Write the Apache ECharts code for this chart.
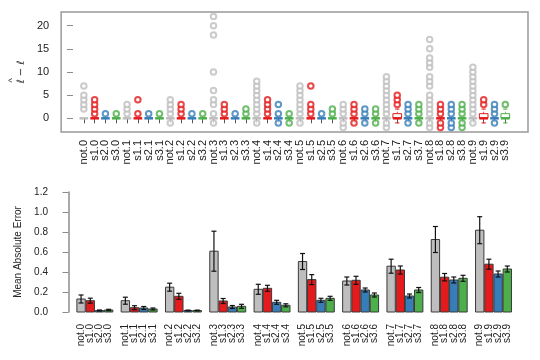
<!DOCTYPE html>
<html>
<head>
<meta charset="utf-8">
<script src="https://cdn.jsdelivr.net/npm/echarts@6/dist/echarts.min.js"></script>
<style>
  html, body { margin: 0; padding: 0; background: #fff; }
  #main { width: 540px; height: 360px; }
</style>
</head>
<body>
<div id="main"></div>
<script>
// category names, one per box / bar
const labels = [
  'not.0','s1.0','s2.0','s3.0','not.1','s1.1','s2.1','s3.1',
  'not.2','s1.2','s2.2','s3.2','not.3','s1.3','s2.3','s3.3',
  'not.4','s1.4','s2.4','s3.4','not.5','s1.5','s2.5','s3.5',
  'not.6','s1.6','s2.6','s3.6','not.7','s1.7','s2.7','s3.7',
  'not.8','s1.8','s2.8','s3.8','not.9','s1.9','s2.9','s3.9'
]
const groupColors = ['#bebebe', '#e41a1c', '#377eb8', '#4daf4a']

// top panel: box stats [min, q1, median, q3, max]
const boxStats = [
  [0,0,0,0,0],[0,0,0,0,0],[0,0,0,0,0],[0,0,0,0,0],
  [0,0,0,0,0],[0,0,0,0,0],[0,0,0,0,0],[0,0,0,0,0],
  [0,0,0,0,0],[0,0,0,0,0],[0,0,0,0,0],[0,0,0,0,0],
  [0,0,0,0,0],[0,0,0,0,0],[0,0,0,0,0],[0,0,0,0,0],
  [0,0,0,0,0],[0,0,0,0,0],[0,0,0,0,0],[0,0,0,0,0],
  [0,0,0,0,0],[0,0,0,0,0],[0,0,0,0,0],[0,0,0,0,0],
  [0,0,0,0,0],[0,0,0,0,0],[0,0,0,0,0],[0,0,0,0,0],
  [0,0,0,0,0],[-1,0,0,1,2],[0,0,0,0,0],[0,0,0,0,0],
  [0,0,0,0,0],[0,0,0,0,0],[0,0,0,0,0],[0,0,0,0,0],
  [0,0,0,0,0],[-1,0,0,1,2],[0,0,0,0,0],[-1,0,0,1,2]
]

// top panel: outliers per category
const outliers = [
  [2,3,4,5,7], [1,2,3,4], [1], [1],
  [1,2,3], [1,4], [1], [1],
  [-1,1,2,3,4], [1,2,3], [1], [1],
  [-1,1,3,4,6,10,18,20,22], [1,2,3], [1], [1,2],
  [-1,1,2,3,4,5,6,7,8], [1,2,3,4], [-1,1,3], [-1,1],
  [-1,1,2,3,4,5,6,7], [1,2,3,7], [1], [1,2],
  [-2,-1,1,2,3], [-1,1,2,3], [-1,1,2], [-1,1,2],
  [-2,-1,1,2,3,4,5,6,7,8,9], [3,4,5], [-1,1,2,3], [-1,1,2,3],
  [-2,-1,1,2,3,4,5,7,8,9,11,12,13,15,17], [-2,-1,1,2,3], [-2,-1,1,2,3], [-2,-1,1,2,3],
  [-1,1,2,3,4,5,6,7,8,9,10,11], [3,4], [-1,1,2,3], [3]
]

// bottom panel: mean absolute error and its error bar half-width
const maeMean = [
  0.13, 0.113, 0.015, 0.02,
  0.113, 0.043, 0.04, 0.03,
  0.248, 0.157, 0.015, 0.015,
  0.608, 0.11, 0.05, 0.057,
  0.227, 0.237, 0.097, 0.067,
  0.505, 0.324, 0.117, 0.137,
  0.31, 0.317, 0.22, 0.17,
  0.458, 0.42, 0.16, 0.22,
  0.725, 0.348, 0.32, 0.337,
  0.818, 0.478, 0.38, 0.43
]
const maeErr = [
  0.04, 0.025, 0.005, 0.007,
  0.035, 0.02, 0.015, 0.01,
  0.04, 0.03, 0.004, 0.004,
  0.2, 0.025, 0.015, 0.02,
  0.05, 0.03, 0.02, 0.015,
  0.08, 0.05, 0.02, 0.02,
  0.04, 0.04, 0.02, 0.02,
  0.07, 0.04, 0.02, 0.025,
  0.13, 0.037, 0.03, 0.03,
  0.135, 0.05, 0.03, 0.03
]
const topTicks = [0, 5, 10, 15, 20]

// layout positions
const boxX = labels.map((_, i) => i + 1)
const barX = labels.map((_, i) => Math.floor(i / 4) * 5.3 + 1.5 + (i % 4) * 1.1)
// bar labels split over two axes so ECharts does not drop the ones next to min/max
const barXEven = barX.filter((_, i) => i % 2 === 0)
const barXOdd = barX.filter((_, i) => i % 2 === 1)

const font = 'Liberation Sans, Arial, sans-serif'
const axisGrey = '#8c8c8c'
const textCol = '#222'

function renderBox(params, api) {
  const x = api.value(0)
  const lo = api.value(1), q1 = api.value(2), med = api.value(3), q3 = api.value(4), hi = api.value(5)
  const color = groupColors[params.dataIndex % 4]
  const half = api.size([0.8, 0])[0] / 2
  const children = []
  const pq1 = api.coord([x, q1]), pq3 = api.coord([x, q3])
  if (q3 > q1) {
    const plo = api.coord([x, lo]), phi = api.coord([x, hi])
    children.push({ type: 'line', shape: { x1: pq3[0], y1: pq3[1], x2: phi[0], y2: phi[1] },
      style: { stroke: color, lineWidth: 0.8, lineDash: [2, 2] } })
    children.push({ type: 'line', shape: { x1: pq1[0], y1: pq1[1], x2: plo[0], y2: plo[1] },
      style: { stroke: color, lineWidth: 0.8, lineDash: [2, 2] } })
    children.push({ type: 'line', shape: { x1: phi[0] - half / 2, y1: phi[1], x2: phi[0] + half / 2, y2: phi[1] },
      style: { stroke: color, lineWidth: 1 } })
    children.push({ type: 'line', shape: { x1: plo[0] - half / 2, y1: plo[1], x2: plo[0] + half / 2, y2: plo[1] },
      style: { stroke: color, lineWidth: 1 } })
    children.push({ type: 'rect', shape: { x: pq1[0] - half, y: pq3[1], width: half * 2, height: pq1[1] - pq3[1] },
      style: { fill: '#fff', stroke: color, lineWidth: 1 } })
  }
  const pm = api.coord([x, med])
  children.push({ type: 'line', shape: { x1: pm[0] - half, y1: pm[1], x2: pm[0] + half, y2: pm[1] },
    style: { stroke: color, lineWidth: 2.5 } })
  return { type: 'group', children: children }
}

function renderBar(params, api) {
  const x = api.value(0), m = api.value(1), e = api.value(2)
  const color = groupColors[params.dataIndex % 4]
  const w = api.size([1, 0])[0]
  const p0 = api.coord([x, 0]), pm = api.coord([x, m])
  const pt = api.coord([x, m + e]), pb = api.coord([x, Math.max(m - e, 0)])
  const cap = 2.5
  return {
    type: 'group',
    children: [
      { type: 'rect', shape: { x: p0[0] - w / 2, y: pm[1], width: w, height: p0[1] - pm[1] },
        style: { fill: color, stroke: '#3a3a3a', lineWidth: 1 } },
      { type: 'line', shape: { x1: pt[0], y1: pt[1], x2: pb[0], y2: pb[1] }, style: { stroke: '#111', lineWidth: 1.2 } },
      { type: 'line', shape: { x1: pt[0] - cap, y1: pt[1], x2: pt[0] + cap, y2: pt[1] }, style: { stroke: '#111', lineWidth: 1.2 } },
      { type: 'line', shape: { x1: pb[0] - cap, y1: pb[1], x2: pb[0] + cap, y2: pb[1] }, style: { stroke: '#111', lineWidth: 1.2 } }
    ]
  }
}

const outlierSeries = [0, 1, 2, 3].map(k => {
  const pts = []
  outliers.forEach((list, i) => {
    if (i % 4 === k) list.forEach(v => pts.push([boxX[i], v]))
  })
  return {
    type: 'scatter', xAxisIndex: 0, yAxisIndex: 0, data: pts,
    symbol: 'emptyCircle', symbolSize: 5.5,
    itemStyle: { color: groupColors[k], borderColor: groupColors[k], borderWidth: 1 },
    silent: true, z: 3
  }
})

function labelAt(list, v) {
  const i = list.findIndex(p => Math.abs(p - v) < 0.01)
  return i < 0 ? '' : labels[i]
}

function barLabelAxis(values) {
  return {
    gridIndex: 1, type: 'value', min: -1.14, max: 54.14, position: 'bottom',
    axisLine: { show: false }, splitLine: { show: false }, axisTick: { show: false },
    axisLabel: { customValues: values, rotate: 90, margin: 12, fontSize: 10, color: textCol,
      showMinLabel: true, showMaxLabel: true, hideOverlap: false,
      formatter: v => labelAt(barX, v) }
  }
}

const myChart = echarts.init(document.getElementById('main'))
myChart.setOption({
  animation: false,
  textStyle: { fontFamily: font },
  grid: [
    { left: 60, top: 12, width: 468, height: 120, show: true, borderColor: '#999', borderWidth: 1.5 },
    { left: 59, top: 192, width: 462, height: 120 }
  ],
  xAxis: [
    {
      gridIndex: 0, type: 'value', min: -1.1, max: 42.1,
      axisLine: { show: false }, splitLine: { show: false },
      axisTick: { show: true, customValues: boxX, length: 5, lineStyle: { color: '#555' } },
      axisLabel: { customValues: boxX, rotate: 90, margin: 8, fontSize: 11, color: textCol,
        showMinLabel: true, showMaxLabel: true, hideOverlap: false,
        formatter: v => labelAt(boxX, v) }
    },
    barLabelAxis(barXEven),
    barLabelAxis(barXOdd)
  ],
  yAxis: [
    {
      gridIndex: 0, type: 'value', min: -2.96, max: 22.96,
      name: '{h|^}\n{t|\u2113 \u2212 \u2113}', nameLocation: 'middle', nameGap: 33, nameRotate: 90,
      nameTextStyle: {
        fontSize: 10, color: textCol,
        rich: {
          h: { fontSize: 9, lineHeight: 5, color: textCol, padding: [0, 17, 0, 0] },
          t: { fontSize: 10, lineHeight: 12, color: textCol, fontFamily: 'DejaVu Sans' }
        }
      },
      axisLine: { show: false }, splitLine: { show: false },
      axisTick: { show: true, customValues: topTicks, length: 6, lineStyle: { color: axisGrey } },
      axisLabel: { customValues: topTicks, margin: 12, fontSize: 11, color: textCol }
    },
    {
      gridIndex: 1, type: 'value', min: 0, max: 1.2, interval: 0.2,
      name: 'Mean Absolute Error', nameLocation: 'middle', nameGap: 31, nameRotate: 90,
      nameTextStyle: { fontSize: 10, color: textCol },
      axisLine: { show: true, lineStyle: { color: axisGrey, width: 1.5 } }, splitLine: { show: false },
      axisTick: { show: true, length: 6, lineStyle: { color: axisGrey } },
      axisLabel: { margin: 11, fontSize: 10, color: textCol, formatter: v => v.toFixed(1) }
    }
  ],
  series: [
    {
      type: 'custom', xAxisIndex: 0, yAxisIndex: 0, renderItem: renderBox,
      data: boxStats.map((s, i) => [boxX[i]].concat(s)), z: 4, silent: true
    }
  ].concat(outlierSeries).concat([
    {
      type: 'custom', xAxisIndex: 1, yAxisIndex: 1, renderItem: renderBar,
      data: maeMean.map((m, i) => [barX[i], m, maeErr[i]]), silent: true
    }
  ])
})
</script>
</body>
</html>
